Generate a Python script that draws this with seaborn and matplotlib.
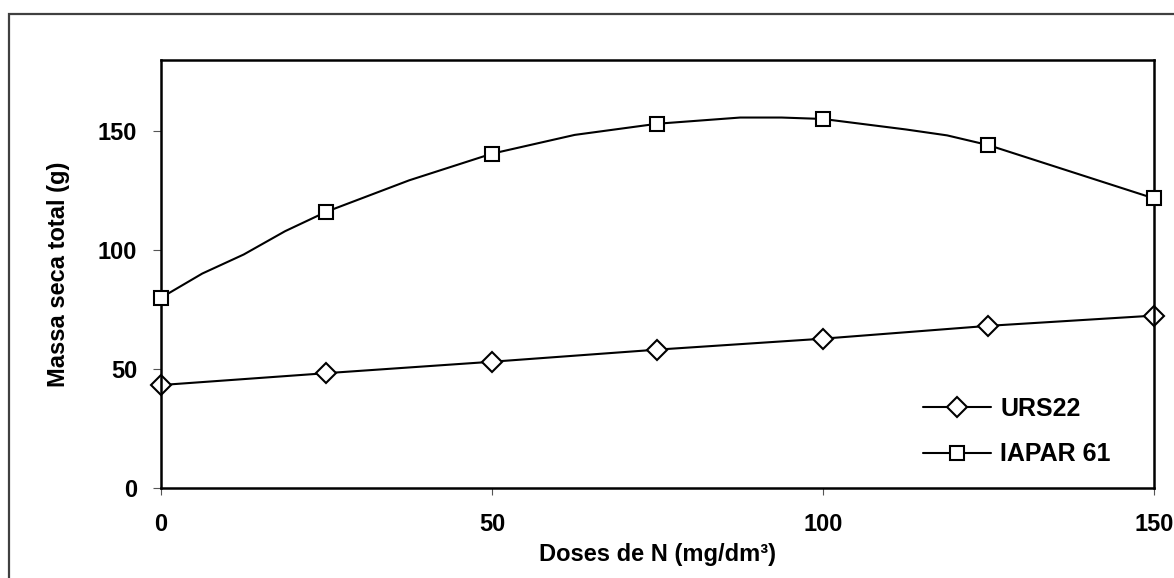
import matplotlib
matplotlib.use("Agg")
import matplotlib.pyplot as plt
from matplotlib.lines import Line2D
from matplotlib.patches import Rectangle
import seaborn as sb
import pandas as pd

# Data
doses = [0, 25, 50, 75, 100, 125, 150]
urs22 = [43.3, 48.3, 53.1, 58.2, 62.8, 68.2, 72.5]
iapar61 = [80.0, 116.2, 140.6, 153.2, 155.2, 144.2, 121.8]

# smoothed curve of IAPAR 61 (intermediate points without markers)
iapar_curve_x = [0, 6.25, 12.5, 18.75, 25, 37.5, 50, 62.5, 75, 87.5, 93.75, 100,
                 112.5, 118.75, 125, 150]
iapar_curve_y = [80.0, 90.2, 98.2, 108.0, 116.2, 129.4, 140.6, 148.5, 153.2, 155.8,
                 155.8, 155.2, 150.8, 148.3, 144.2, 121.8]

series_names = ["URS22", "IAPAR 61"]
x_ticks = [0, 50, 100, 150]
y_ticks = [0, 50, 100, 150]

sb.set_theme(style="white")
plt.rcParams["font.family"] = ["Liberation Sans", "DejaVu Sans"]
plt.rcParams["font.weight"] = "bold"
plt.rcParams["text.color"] = "black"
plt.rcParams["axes.labelcolor"] = "black"

df_urs = pd.DataFrame({"dose": doses, "massa": urs22})
df_iap = pd.DataFrame({"dose": doses, "massa": iapar61})
df_curve = pd.DataFrame({"dose": iapar_curve_x, "massa": iapar_curve_y})

fig = plt.figure(figsize=(11.74, 5.78), dpi=100)
ax = fig.add_axes([0.1371, 0.1557, 0.8458, 0.7405])

# outer frame of the figure
fig.patches.append(Rectangle((9 / 1174, -0.05), 1.2, 1 - 14 / 578 + 0.05,
                             transform=fig.transFigure, fill=False,
                             edgecolor="#404040", linewidth=1.6, zorder=0))

sb.lineplot(data=df_urs, x="dose", y="massa", ax=ax, color="black", linewidth=1.5,
            marker="D", markersize=10, markerfacecolor="white",
            markeredgecolor="black", markeredgewidth=1.5, clip_on=False)
sb.lineplot(data=df_curve, x="dose", y="massa", ax=ax, color="black", linewidth=1.5,
            clip_on=False)
ax.plot(df_iap["dose"], df_iap["massa"], linestyle="none", marker="s", markersize=9.5,
        markerfacecolor="white", markeredgecolor="black", markeredgewidth=1.5,
        clip_on=False, zorder=5)

ax.set_xlim(0, 150)
ax.set_ylim(0, 180)
ax.set_xticks(x_ticks)
ax.set_yticks(y_ticks)
ax.tick_params(axis="y", direction="out", length=6, width=0.8, pad=11,
               labelsize=17, left=True, color="#555555", labelcolor="black")
ax.tick_params(axis="x", direction="out", length=5, width=0.8, pad=13,
               labelsize=17, bottom=True, color="#555555", labelcolor="black")
for lab in ax.get_xticklabels() + ax.get_yticklabels():
    lab.set_fontweight("bold")

for s in ax.spines.values():
    s.set_visible(True)
    s.set_color("black")
    s.set_linewidth(1.8)

ax.set_xlabel("Doses de N (mg/dm³)", fontsize=17, fontweight="bold", labelpad=5)
ax.set_ylabel("Massa seca total (g)", fontsize=17, fontweight="bold", labelpad=20)

handles = [
    Line2D([], [], color="black", linewidth=1.5, marker="D", markersize=10,
           markerfacecolor="white", markeredgecolor="black", markeredgewidth=1.5),
    Line2D([], [], color="black", linewidth=1.5, marker="s", markersize=9.5,
           markerfacecolor="white", markeredgecolor="black", markeredgewidth=1.5),
]
ax.legend(handles, series_names, loc="upper left",
          bbox_to_anchor=(923 / 1174, (578 - 397) / 578),
          bbox_transform=fig.transFigure, borderpad=0, borderaxespad=0,
          frameon=False, prop={"size": 18, "weight": "bold"}, handlelength=2.7,
          handletextpad=0.4, labelspacing=0.85)

fig.savefig("out.png", dpi=100)
